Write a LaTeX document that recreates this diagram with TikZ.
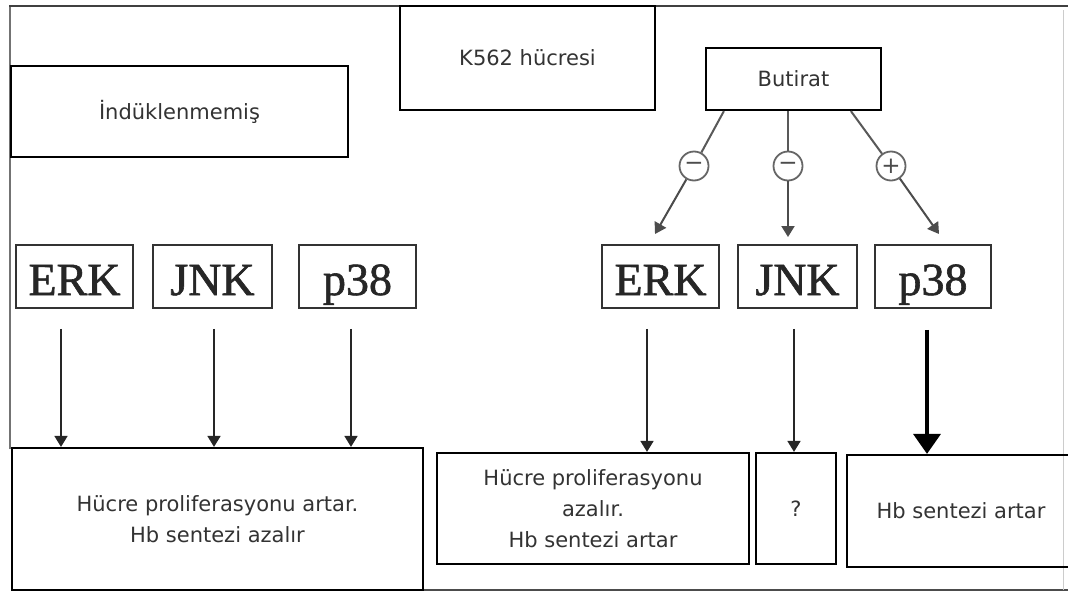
\documentclass[tikz,border=0pt]{standalone}
\usepackage{fontspec}
\setmainfont{DejaVu Sans}
\newfontfamily\serf[FakeBold=1.3]{Liberation Serif}
\usetikzlibrary{arrows.meta,calc}
\begin{document}
\begin{tikzpicture}[x=1pt,y=-1pt,
  box/.style={draw=black, line width=2.2pt, inner sep=0pt, align=center,
    font=\fontsize{21}{31}\selectfont, text=black!80},
  kin/.style={draw=black!80, line width=1.8pt, inner sep=0pt,
    minimum width=117pt, minimum height=63pt, text height=37pt, text depth=0pt,
    font=\serf\fontsize{46}{46}\selectfont, text=black!85},
  arr/.style={draw=black!85, line width=1.7pt, -{Triangle[length=11pt,width=13pt]}},
  bigarr/.style={draw=black, line width=3.6pt, -{Triangle[length=20pt,width=27pt]}},
  bl/.style={draw=black!65, line width=2pt},
  blarr/.style={draw=black!70, line width=2pt, -{Triangle[length=11pt,width=13pt]}},
  sign/.style={circle, draw=black!60, line width=1.8pt, minimum size=29pt, inner sep=0pt,
    font=\fontsize{23}{23}\selectfont, text=black!70}
]
\useasboundingbox (0,0) rectangle (1068,592);
\fill[white] (0,0) rectangle (1068,592);

% outer frame
\draw[black!55, line width=2.6pt] (10,449) -- (10,6);
\draw[black!75, line width=2.2pt] (9,6) -- (1068,6);
\draw[black!70, line width=2pt] (12,590) -- (1068,590);
\draw[black!20, line width=1pt] (1063,10) -- (1063,590);

% title boxes
\node[box, minimum width=337pt, minimum height=91pt] (ind) at (179.5,111.5) {İndüklenmemiş};
\node[box, minimum width=255pt, minimum height=104pt] (k562) at (527.5,58) {K562 hücresi};
\node[box, minimum width=175pt, minimum height=62pt] (but) at (793.5,79) {Butirat};

% kinase boxes
\node[kin] (erkL) at (74.5,276.5) {ERK};
\node[kin, minimum width=119pt] (jnkL) at (212.5,276.5) {JNK};
\node[kin] (p38L) at (357.5,276.5) {p38};
\node[kin] (erkR) at (660.5,276.5) {ERK};
\node[kin, minimum width=119pt] (jnkR) at (797.5,276.5) {JNK};
\node[kin, minimum width=116pt] (p38R) at (933,276.5) {p38};

% result boxes
\node[box, minimum width=411pt, minimum height=142pt] (res1) at (217.5,519)
  {Hücre proliferasyonu artar.\\Hb sentezi azalır};
\node[box, minimum width=312pt, minimum height=111pt] (res2) at (593,508.5)
  {Hücre proliferasyonu\\azalır.\\Hb sentezi artar};
\node[box, minimum width=80pt, minimum height=111pt] (res3) at (796,508.5) {?};
\node[box, minimum width=228pt, minimum height=112pt] (res4) at (961,511) {Hb sentezi artar};

% left arrows
\coordinate (aL1) at ($(erkL.south)+(-13.5,20)$);
\coordinate (aL2) at ($(jnkL.south)+(1.5,20)$);
\coordinate (aL3) at ($(p38L.south)+(-6.5,20)$);
\draw[arr] (aL1) -- (aL1 |- res1.north);
\draw[arr] (aL2) -- (aL2 |- res1.north);
\draw[arr] (aL3) -- (aL3 |- res1.north);

% right arrows
\coordinate (aR1) at ($(erkR.south)+(-13.5,20)$);
\coordinate (aR2) at ($(jnkR.south)+(-3.5,20)$);
\coordinate (aR3) at ($(p38R.south)+(-6,21)$);
\draw[arr] (aR1) -- (aR1 |- res2.north);
\draw[arr] (aR2) -- (aR2 |- res3.north);
\draw[bigarr] (aR3) -- (aR3 |- res4.north);

% butirat effects
\node[sign] (m1) at (694,166) {−};
\node[sign] (m2) at (788,166) {−};
\node[sign] (p1) at (891,166) {+};
\coordinate (bs1) at ($(but.south west)+(19,0)$);
\coordinate (bs2) at (but.south -| m2);
\coordinate (bs3) at ($(but.south west)+(146,0)$);
\coordinate (t1) at (655,234);
\coordinate (t2) at (788,237);
\coordinate (t3) at (939,234);
\draw[bl] (bs1) -- (m1);
\draw[bl] (bs2) -- (m2);
\draw[bl] (bs3) -- (p1);
\draw[blarr] (m1) -- (t1);
\draw[blarr] (m2) -- (t2);
\draw[blarr] (p1) -- (t3);
\end{tikzpicture}
\end{document}
